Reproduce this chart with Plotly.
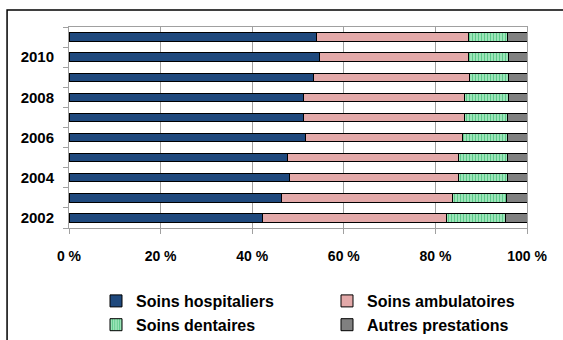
import plotly.graph_objects as go

years = [2002, 2003, 2004, 2005, 2006, 2007, 2008, 2009, 2010, 2011]
hospitaliers = [42.3, 46.3, 48.1, 47.6, 51.6, 51.3, 51.3, 53.4, 54.8, 54.0]
ambulatoires = [40.2, 37.5, 37.0, 37.5, 34.4, 35.0, 35.0, 34.1, 32.5, 33.3]
dentaires = [12.8, 11.7, 10.7, 10.7, 9.8, 9.5, 9.7, 8.5, 8.7, 8.5]
autres = [4.7, 4.5, 4.2, 4.2, 4.2, 4.2, 4.0, 4.0, 4.0, 4.2]
year_labels = ["2002", "2004", "2006", "2008", "2010"]
x_ticks = [0, 20, 40, 60, 80, 100]
x_labels = ["0 %", "20 %", "40 %", "60 %", "80 %", "100 %"]

FONT = "Liberation Sans, Arial, sans-serif"
W, H = 563, 340
ML, MR, MT, MB = 69, 35.5, 27, 112

fig = go.Figure()
line = dict(color="#000000", width=1)
fig.add_trace(go.Bar(y=years, x=hospitaliers, orientation="h", name="Soins hospitaliers",
                     marker=dict(color="#1f497d", line=line), width=0.42))
fig.add_trace(go.Bar(y=years, x=ambulatoires, orientation="h", name="Soins ambulatoires",
                     marker=dict(color="#e3a9a9", line=line), width=0.42))
fig.add_trace(go.Bar(y=years, x=dentaires, orientation="h", name="Soins dentaires",
                     marker=dict(color="#a8eac2", line=line,
                                 pattern=dict(shape="|", fgcolor="#5cc98a", bgcolor="#a8eac2",
                                              size=3, solidity=0.45, fillmode="replace")),
                     width=0.42))
fig.add_trace(go.Bar(y=years, x=autres, orientation="h", name="Autres prestations",
                     marker=dict(color="#808080", line=line), width=0.42))

pw = W - ML - MR
ph = H - MT - MB
def px_x(p):
    return (p - ML) / pw
def px_y(p):
    return (H - MB - p) / ph

fig.add_shape(type="rect", xref="paper", yref="paper",
              x0=px_x(7), x1=px_x(620), y0=px_y(400), y1=px_y(10),
              line=dict(color="#000000", width=1.5), fillcolor="rgba(0,0,0,0)", layer="above")

fig.update_layout(
    width=W, height=H, barmode="stack", bargap=0.58,
    margin=dict(l=ML, r=MR, t=MT, b=MB, pad=0),
    paper_bgcolor="white", plot_bgcolor="white",
    font=dict(family=FONT, size=14, color="#000000"),
    showlegend=True,
    legend=dict(orientation="h", xref="container", yref="container",
                x=96 / W, y=1 - 284 / H, xanchor="left", yanchor="top",
                entrywidth=186, entrywidthmode="pixels", itemwidth=30,
                tracegroupgap=0, traceorder="normal",
                font=dict(family=FONT, size=16, color="#000000", weight="bold")),
    xaxis=dict(range=[0, 100], tickvals=x_ticks, ticktext=x_labels,
               showgrid=True, gridcolor="#a0a0a0", gridwidth=1,
               showline=True, linecolor="#a0a0a0", linewidth=1, mirror=True,
               ticks="outside", ticklen=5, tickcolor="#a0a0a0",
               ticklabelstandoff=10,
               tickfont=dict(family=FONT, size=14, color="#000000", weight="bold"),
               zeroline=False, fixedrange=True),
    yaxis=dict(range=[2001.5, 2011.5], tickvals=[2002, 2004, 2006, 2008, 2010], ticktext=year_labels,
               ticks="", showgrid=False,
               showline=True, linecolor="#a0a0a0", linewidth=1, mirror=True,
               minor=dict(tickvals=[y + 0.5 for y in range(2001, 2012)], ticks="outside",
                          ticklen=5, tickcolor="#a0a0a0", showgrid=False),
               ticklabelstandoff=11,
               tickfont=dict(family=FONT, size=15, color="#000000", weight="bold"),
               zeroline=False, fixedrange=True),
)

fig.write_html("out.html")
